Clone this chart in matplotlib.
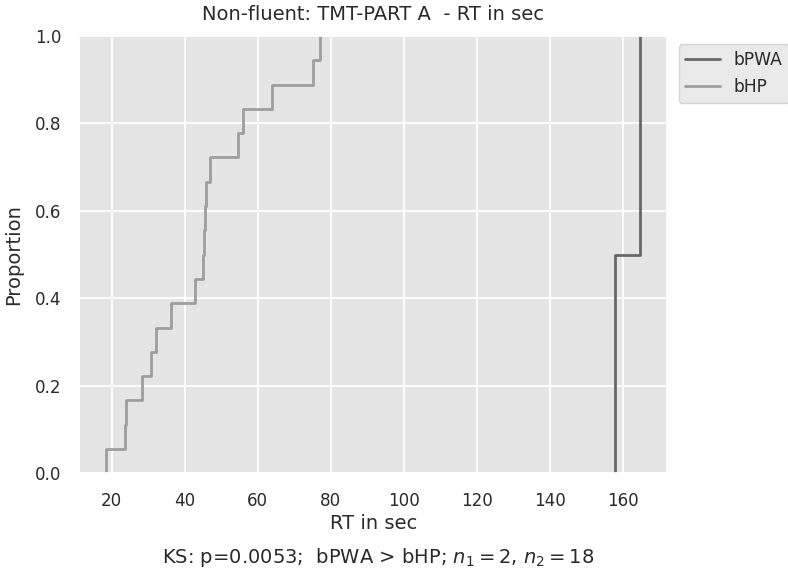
import matplotlib
matplotlib.use("Agg")
import matplotlib.pyplot as plt
import seaborn as sns
import numpy as np

# Data (RT in sec)
bPWA = [157.9, 164.9]
bHP = [18.4, 23.5, 24.0, 28.4, 30.7, 32.2, 36.3, 42.7, 45.1, 45.3, 45.5, 45.8,
       46.9, 54.6, 55.9, 64.0, 75.1, 77.0]
group_names = ["bPWA", "bHP"]
group_colors = ["#686868", "#9e9e9e"]
xticks = [20, 40, 60, 80, 100, 120, 140, 160]
yticks = [0.0, 0.2, 0.4, 0.6, 0.8, 1.0]
title = "Non-fluent: TMT-PART A  - RT in sec"
xlabel = "RT in sec"
ylabel = "Proportion"
footnote = r"KS: p=0.0053;  bPWA > bHP; $n_1 = 2$, $n_2 = 18$"

sns.set_theme(style="darkgrid")
plt.rcParams['font.family'] = ['DejaVu Sans']
plt.rcParams['axes.facecolor'] = '#e5e5e5'
plt.rcParams['text.color'] = '#2a2a2a'
plt.rcParams['axes.labelcolor'] = '#2a2a2a'
plt.rcParams['xtick.color'] = '#2a2a2a'
plt.rcParams['ytick.color'] = '#2a2a2a'

fig = plt.figure(figsize=(7.88, 5.74), dpi=100)
ax = fig.add_axes([0.1006, 0.1754, 0.746, 0.762])

for vals, name, col in zip([bPWA, bHP], group_names, group_colors):
    sns.ecdfplot(x=vals, ax=ax, color=col, linewidth=2, label=name)

ax.set_xticks(xticks)
ax.set_yticks(yticks)
ax.set_ylim(0, 1)
ax.tick_params(axis='x', labelsize=12.1, length=0, pad=13.6)
ax.tick_params(axis='y', labelsize=12.1, length=0, pad=12.7)
ax.set_title(title, fontsize=14, pad=11.5)
ax.set_xlabel(xlabel, fontsize=14)
ax.set_ylabel(ylabel, fontsize=14)
ax.xaxis.set_label_coords(0.5, -0.094)
ax.yaxis.set_label_coords(-0.0952, 0.5)
ax.grid(True, color='white', linewidth=1.3)

leg = ax.legend(loc='upper left', bbox_to_anchor=(1.005, 1), fontsize=12.3,
                frameon=True, facecolor='#e5e5e5', edgecolor='#cccccc')

fig.text(0.4803, 0.0186, footnote, ha='center', va='baseline', fontsize=14)

fig.savefig("out.png", dpi=100)
